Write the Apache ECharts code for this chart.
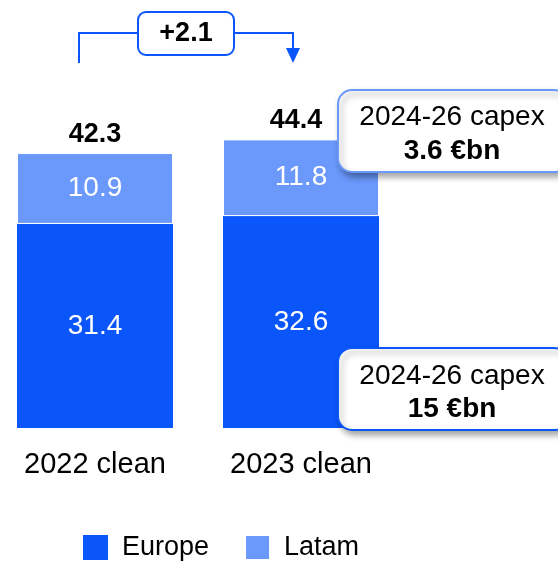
<!DOCTYPE html>
<html>
<head>
<meta charset="utf-8">
<script src="https://cdn.jsdelivr.net/npm/echarts@6/dist/echarts.min.js"></script>
<style>html,body{margin:0;padding:0;background:#fff}#c{width:558px;height:561px}</style>
</head>
<body>
<div id="c"></div>
<script>
const categories = ['2022 clean', '2023 clean'];
const europe = [31.4, 32.6];
const latam = [10.9, 11.8];
const totals = [42.3, 44.4];
const deltaText = '+2.1';
const callouts = [['2024-26 capex', '3.6 €bn'], ['2024-26 capex', '15 €bn']];

const FONT = '"Liberation Sans", Arial, sans-serif';
const C_EU = '#0B56FA';
const C_LA = '#6A98FB';

const chart = echarts.init(document.getElementById('c'), null, {renderer: 'canvas'});
chart.setOption({
  animation: false,
  backgroundColor: '#fff',
  textStyle: {fontFamily: FONT},
  grid: {left: 95, right: 257, top: 38, bottom: 133, containLabel: false},
  xAxis: {
    type: 'category', data: categories, boundaryGap: false,
    axisLine: {show: false}, axisTick: {show: false},
    axisLabel: {fontSize: 29, color: '#000', margin: 22, fontFamily: FONT}
  },
  yAxis: {type: 'value', min: 0, max: 60, show: false, splitLine: {show: false}},
  legend: {
    left: 83, top: 534, padding: 0, itemWidth: 25, itemHeight: 25, itemGap: 35, icon: 'rect',
    textStyle: {fontSize: 27, color: '#000', fontFamily: FONT, padding: [0, 0, 0, 9]},
    data: ['Europe', 'Latam']
  },
  series: [
    {
      name: 'Europe', type: 'bar', stack: 'a', barWidth: 156, data: europe,
      itemStyle: {color: C_EU},
      label: {show: true, position: 'inside', color: '#fff', fontSize: 28, fontFamily: FONT}
    },
    {
      name: 'Latam', type: 'bar', stack: 'a', barWidth: 156, data: latam,
      itemStyle: {color: C_LA, borderColor: '#fff', borderWidth: 1},
      label: {show: true, position: 'inside', color: '#fff', fontSize: 28, fontFamily: FONT}
    },
    {
      name: 'Total', type: 'line', data: totals.map((v, i) => ({value: v, label: {offset: i === 1 ? [-5, 0] : [0, 0]}})),
      symbol: 'circle', symbolSize: 1, showSymbol: true,
      itemStyle: {color: 'rgba(0,0,0,0)'}, lineStyle: {opacity: 0}, silent: true,
      label: {show: true, position: 'top', distance: 5, color: '#000', fontWeight: 'bold', fontSize: 27, fontFamily: FONT}
    }
  ],
  graphic: [
    {type: 'polyline', shape: {points: [[79, 63], [79, 33], [138, 33]]}, style: {stroke: C_EU, lineWidth: 2, fill: null}},
    {type: 'polyline', shape: {points: [[234, 33], [293, 33], [293, 50]]}, style: {stroke: C_EU, lineWidth: 2, fill: null}},
    {type: 'polygon', shape: {points: [[286, 48], [300, 48], [293, 63]]}, style: {fill: C_EU}},
    {type: 'rect', shape: {x: 138, y: 12, width: 96, height: 43, r: 8}, style: {fill: '#fff', stroke: C_EU, lineWidth: 2}},
    {type: 'text', x: 186, y: 34, style: {text: deltaText, font: 'bold 27px ' + FONT, fill: '#000', align: 'center', verticalAlign: 'middle'}},

    {type: 'rect', z: 100, shape: {x: 338, y: 90, width: 230, height: 82, r: 14},
      style: {fill: '#fff', stroke: C_LA, lineWidth: 2, shadowBlur: 6, shadowOffsetX: 3, shadowOffsetY: 4, shadowColor: 'rgba(0,0,0,0.35)'}},
    {type: 'text', z: 101, x: 452, y: 117, style: {text: callouts[0][0], font: '28px ' + FONT, fill: '#000', align: 'center', verticalAlign: 'middle'}},
    {type: 'text', z: 101, x: 452, y: 151, style: {text: callouts[0][1], font: 'bold 28px ' + FONT, fill: '#000', align: 'center', verticalAlign: 'middle'}},

    {type: 'rect', z: 100, shape: {x: 338, y: 348, width: 230, height: 82, r: 14},
      style: {fill: '#fff', stroke: C_EU, lineWidth: 2, shadowBlur: 6, shadowOffsetX: 3, shadowOffsetY: 4, shadowColor: 'rgba(0,0,0,0.35)'}},
    {type: 'text', z: 101, x: 452, y: 376, style: {text: callouts[1][0], font: '28px ' + FONT, fill: '#000', align: 'center', verticalAlign: 'middle'}},
    {type: 'text', z: 101, x: 452, y: 409, style: {text: callouts[1][1], font: 'bold 28px ' + FONT, fill: '#000', align: 'center', verticalAlign: 'middle'}}
  ]
});
</script>
</body>
</html>
